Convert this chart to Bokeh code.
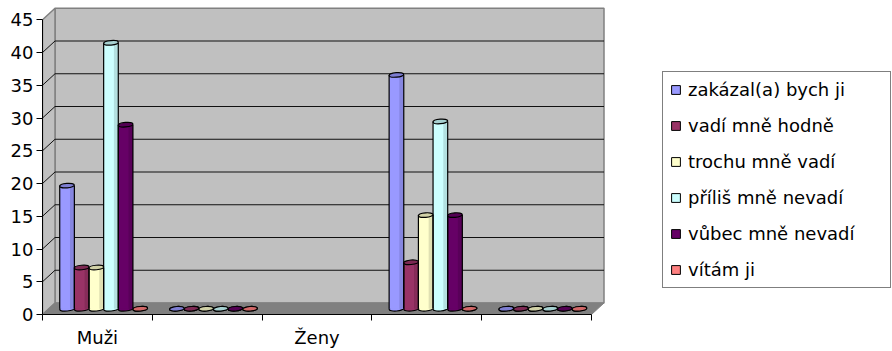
from bokeh.plotting import figure
from bokeh.models import Range1d, FixedTicker, Legend, LegendItem
from bokeh.embed import file_html
from bokeh.resources import INLINE

# ---- data -------------------------------------------------------------
categories = ["Muži", "", "Ženy", "", ""]
series_names = [
    "zakázal(a) bych ji",
    "vadí mně hodně",
    "trochu mně vadí",
    "příliš mně nevadí",
    "vůbec mně nevadí",
    "vítám ji",
]
series_colors = ["#9999FF", "#993366", "#FFFFCC", "#CCFFFF", "#660066", "#FF8080"]

zakazal = [18.8, 0, None, 35.7, 0]
vadi_hodne = [6.3, 0, None, 7.1, 0]
trochu_vadi = [6.3, 0, None, 14.3, 0]
prilis_nevadi = [40.6, 0, None, 28.6, 0]
vubec_nevadi = [28.1, 0, None, 14.3, 0]
vitam = [0, 0, None, 0, 0]
series_values = [zakazal, vadi_hodne, trochu_vadi, prilis_nevadi, vubec_nevadi, vitam]

y_ticks = [0, 5, 10, 15, 20, 25, 30, 35, 40, 45]

# ---- geometry of the pseudo-3D box -------------------------------------
PX_X = 109.8          # pixels per category
PX_Y = 6.55           # pixels per value unit
FRAME_W, FRAME_H = 850, 314
DX = 12.5 / PX_X      # depth offset (x)
DY = 11.5 / PX_Y      # depth offset (y)
GROUP = 0.8
BW = GROUP / len(series_names)
n_cat = len(categories)
y_top = max(y_ticks)

FONT = "DejaVu Sans"
FS = "18px"


def shade(hexc, f):
    r, g, b = (int(hexc[i:i + 2], 16) for i in (1, 3, 5))
    return "#%02x%02x%02x" % tuple(min(255, int(c * f)) for c in (r, g, b))


p = figure(
    width=892, height=351,
    x_range=Range1d(0, FRAME_W / PX_X), y_range=Range1d(0, FRAME_H / PX_Y),
    min_border_left=42, min_border_right=0, min_border_top=0, min_border_bottom=37,
    output_backend="svg", toolbar_location=None,
)
p.outline_line_color = None
p.background_fill_color = "white"
p.border_fill_color = "white"
p.grid.visible = False

# back wall
p.patch([DX, n_cat + DX, n_cat + DX, DX], [DY, DY, y_top + DY, y_top + DY],
        fill_color="#C0C0C0", line_color="#808080", line_width=1.5)
# side wall
p.patch([0, DX, DX, 0], [0, DY, y_top + DY, y_top],
        fill_color="#C0C0C0", line_color="#808080", line_width=1.5)
# floor
p.patch([0, n_cat, n_cat + DX, DX], [0, 0, DY, DY],
        fill_color="#808080", line_color="#808080", line_width=1)

# gridlines on the walls
inner = [v for v in y_ticks if 0 < v < y_top]
p.segment(x0=[DX] * len(inner), y0=[v + DY for v in inner],
          x1=[n_cat + DX] * len(inner), y1=[v + DY for v in inner],
          line_color="#111111", line_width=1)
p.segment(x0=[0] * len(inner), y0=inner,
          x1=[DX] * len(inner), y1=[v + DY for v in inner],
          line_color="#111111", line_width=1)

# ---- cylinders ---------------------------------------------------------
xc, base, top, col, dark, lid = [], [], [], [], [], []
for i, (vals, c) in enumerate(zip(series_values, series_colors)):
    for j, v in enumerate(vals):
        if v is None:
            continue
        xc.append(j + 0.5 + DX / 2 + (i - (len(series_names) - 1) / 2) * BW)
        base.append(DY / 2)
        top.append(v + DY / 2)
        col.append(c)
        dark.append(shade(c, 0.88))
        lid.append(shade(c, 0.82))

ELL_H = 4.5
ANG = 0.08
p.ellipse(x=xc, y=base, width=BW, height=ELL_H, height_units="screen", angle=ANG,
          fill_color=col, line_color="black", line_width=1.2)
p.quad(left=[x - BW / 2 for x in xc], right=[x + BW / 2 for x in xc],
       bottom=base, top=top, fill_color=col, line_color=None)
p.quad(left=[x + BW / 2 - 0.3 * BW for x in xc], right=[x + BW / 2 for x in xc],
       bottom=base, top=top, fill_color=dark, line_color=None)
p.segment(x0=[x - BW / 2 for x in xc], y0=base, x1=[x - BW / 2 for x in xc], y1=top,
          line_color="black", line_width=1.2)
p.segment(x0=[x + BW / 2 for x in xc], y0=base, x1=[x + BW / 2 for x in xc], y1=top,
          line_color="black", line_width=1.2)
p.ellipse(x=xc, y=top, width=BW, height=ELL_H, height_units="screen", angle=ANG,
          fill_color=lid, line_color="black", line_width=1.2)

# ---- axes --------------------------------------------------------------
ya = p.yaxis[0]
ya.ticker = FixedTicker(ticks=y_ticks, minor_ticks=[])
ya.bounds = (0, y_top)
ya.axis_line_color = "black"
ya.major_tick_line_color = "black"
ya.major_tick_in = 0
ya.major_tick_out = 6
ya.minor_tick_line_color = None
ya.major_label_standoff = 3
ya.major_label_text_font = FONT
ya.major_label_text_font_size = FS
ya.major_label_text_color = "black"

xa = p.xaxis[0]
label_ticks = [j + 0.5 for j, lab in enumerate(categories) if lab]
xa.ticker = FixedTicker(ticks=label_ticks, minor_ticks=list(range(n_cat + 1)))
xa.major_label_overrides = {j + 0.5: lab for j, lab in enumerate(categories) if lab}
xa.bounds = (0, n_cat)
xa.axis_line_color = "black"
xa.major_tick_line_color = None
xa.major_tick_in = 0
xa.major_tick_out = 0
xa.minor_tick_line_color = "black"
xa.minor_tick_in = 0
xa.minor_tick_out = 6
xa.major_label_standoff = 6
xa.major_label_text_font = FONT
xa.major_label_text_font_size = FS
xa.major_label_text_color = "black"

# ---- legend ------------------------------------------------------------
items = []
for name, c in zip(series_names, series_colors):
    r = p.quad(left=[float("nan")], right=[float("nan")], bottom=[float("nan")],
               top=[float("nan")], fill_color=c, line_color="black", line_width=1)
    items.append(LegendItem(label=name, renderers=[r]))

legend = Legend(
    items=items, location=(620, 26), orientation="vertical",
    border_line_color="black", border_line_width=1,
    background_fill_color="white", background_fill_alpha=1,
    label_text_font=FONT, label_text_font_size=FS, label_text_color="black",
    glyph_width=11, glyph_height=11, label_standoff=7,
    label_height=21, label_width=195, spacing=15, padding=7, margin=0,
)
p.add_layout(legend)

open("out.html", "w").write(file_html(p, INLINE))
